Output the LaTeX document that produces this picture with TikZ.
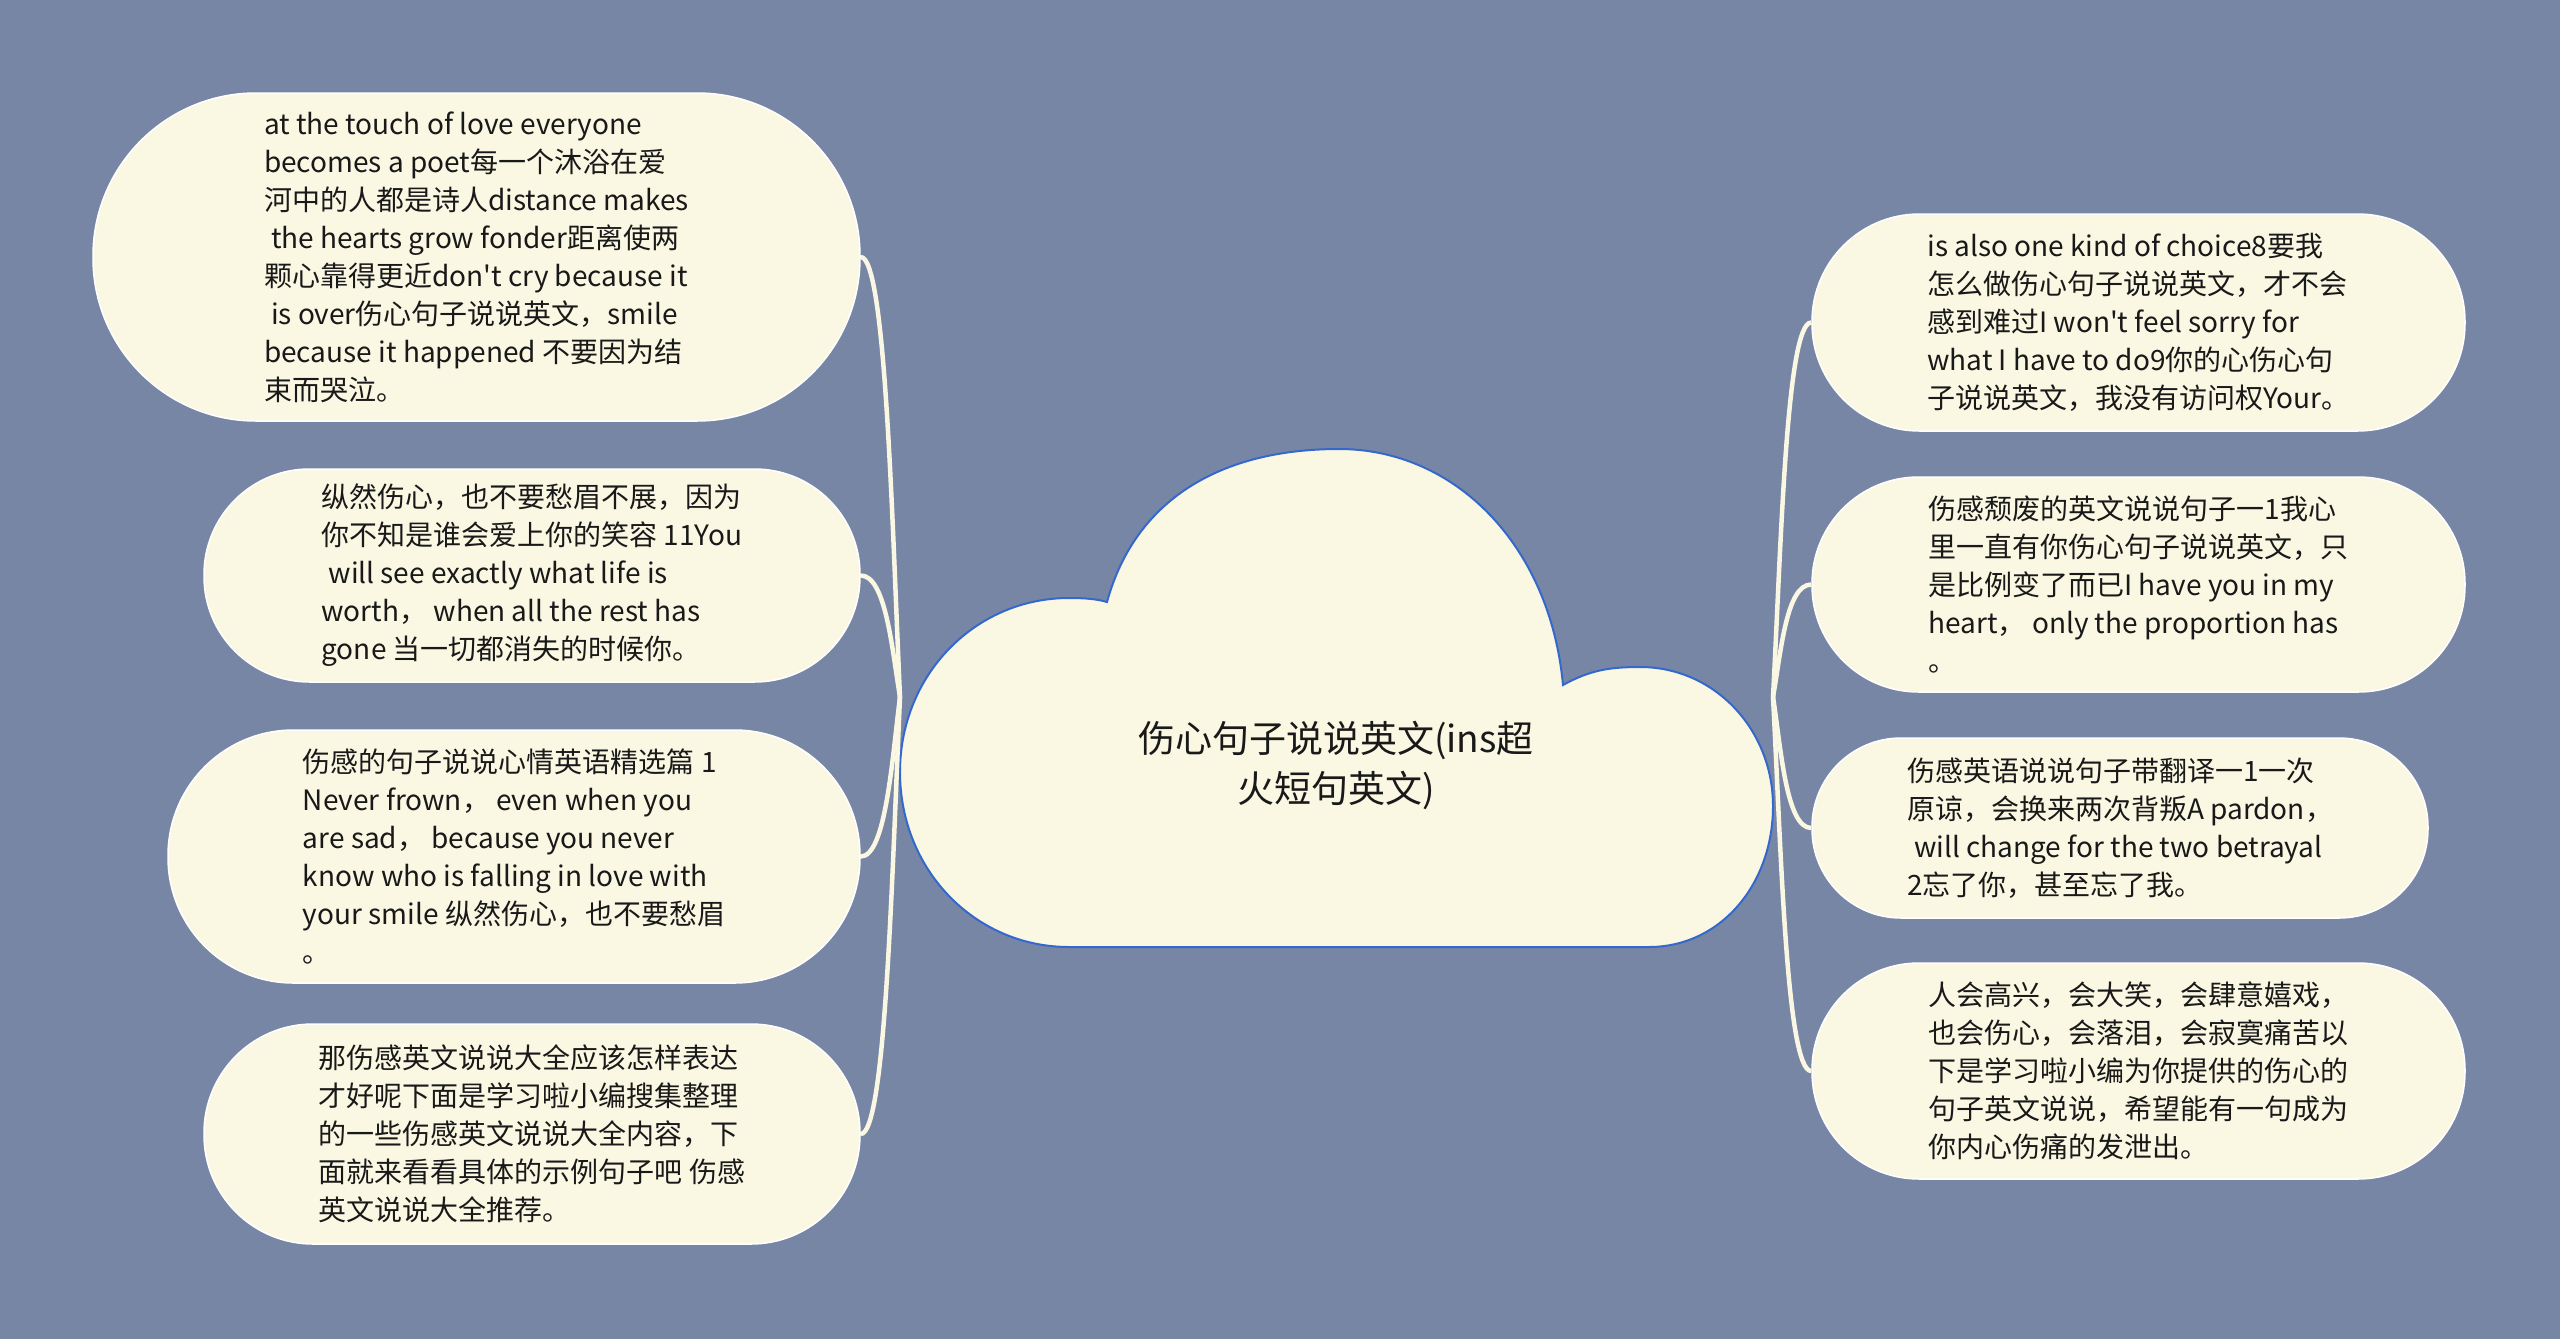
\documentclass[tikz,border=0pt]{standalone}
\usepackage{fontspec}
\setmainfont[Ligatures=TeXOff]{Noto Sans CJK SC}
\usepackage{tikz}
\usetikzlibrary{positioning}
\definecolor{bgblue}{RGB}{120,134,166}
\definecolor{cream}{RGB}{250,247,227}
\definecolor{cloudblue}{RGB}{52,104,204}

\begin{document}
\begin{tikzpicture}[x=1pt, y=-1pt,
  leaf/.style 2 args={rectangle, draw=white, line width=1.5pt, fill=cream,
    minimum width=#1, minimum height=#2, rounded corners=#2/2-1pt,
    align=left, text=black!90, font=\fontsize{28}{38}\selectfont},
  branch/.style={cream, line width=4.5pt}]
\useasboundingbox[fill=bgblue] (0,0) rectangle (2560,1339);

% cloud in the middle
\draw[fill=cream, draw=cloudblue, line width=2pt]
  (1069,947) .. controls (975,947) and (900,870) .. (900,772)
  .. controls (900,675) and (975,598) .. (1069,598)
  .. controls (1085,598) and (1097,599) .. (1107,602)
  .. controls (1135,500) and (1220,449) .. (1339,449)
  .. controls (1455,449) and (1550,545) .. (1563,685)
  .. controls (1590,670) and (1610,667) .. (1640,667)
  .. controls (1715,667) and (1773,730) .. (1773,806)
  .. controls (1773,885) and (1720,947) .. (1649,947) -- cycle;
\node[align=center, text=black!90, font=\fontsize{37}{50}\selectfont] (root) at (1336,765)
  {伤心句子说说英文(ins超\\火短句英文)};
\coordinate (hubl) at (900,697);
\coordinate (hubr) at (1773,697);

% left side
\node[leaf={767pt}{328pt}] (l1) at (476.5,257) {at the touch of love everyone\\
becomes a poet每一个沐浴在爱\\
河中的人都是诗人distance makes\\
\hspace*{.25em}the hearts grow fonder距离使两\\
颗心靠得更近don't cry because it\\
\hspace*{.25em}is over伤心句子说说英文，smile\\
because it happened 不要因为结\\
束而哭泣。};
\node[leaf={656pt}{213pt}] (l2) at (532,575.5) {纵然伤心，也不要愁眉不展，因为\\
你不知是谁会爱上你的笑容 11You\\
\hspace*{.25em}will see exactly what life is\\
worth， when all the rest has\\
gone 当一切都消失的时候你。};
\node[leaf={692pt}{253pt}] (l3) at (514,856.5) {伤感的句子说说心情英语精选篇 1\\
Never frown， even when you\\
are sad， because you never\\
know who is falling in love with\\
your smile 纵然伤心，也不要愁眉\\
。};
\node[leaf={656pt}{220pt}] (l4) at (532,1134) {那伤感英文说说大全应该怎样表达\\
才好呢下面是学习啦小编搜集整理\\
的一些伤感英文说说大全内容，下\\
面就来看看具体的示例句子吧 伤感\\
英文说说大全推荐。};

% right side
\node[leaf={653pt}{217pt}] (r1) at (2138.5,322.5) {is also one kind of choice8要我\\
怎么做伤心句子说说英文，才不会\\
感到难过I won't feel sorry for\\
what I have to do9你的心伤心句\\
子说说英文，我没有访问权Your。};
\node[leaf={653pt}{215pt}] (r2) at (2138.5,584.5) {伤感颓废的英文说说句子一1我心\\
里一直有你伤心句子说说英文，只\\
是比例变了而已I have you in my\\
heart， only the proportion has\\
。};
\node[leaf={616pt}{180pt}] (r3) at (2120,828) {伤感英语说说句子带翻译一1一次\\
原谅，会换来两次背叛A pardon，\\
\hspace*{.25em}will change for the two betrayal\\
2忘了你，甚至忘了我。};
\node[leaf={653pt}{216pt}] (r4) at (2138.5,1071) {人会高兴，会大笑，会肆意嬉戏，\\
也会伤心，会落泪，会寂寞痛苦以\\
下是学习啦小编为你提供的伤心的\\
句子英文说说，希望能有一句成为\\
你内心伤痛的发泄出。};

\foreach \n/\d in {l1/-176, l2/-48, l3/63, l4/175}
  \draw[branch] (hubl) .. controls +(-8,\d) and +(25,0) .. (\n.east);
\foreach \n/\d in {r1/-150, r2/-45, r3/52, r4/150}
  \draw[branch] (hubr) .. controls +(8,\d) and +(-25,0) .. (\n.west);
\end{tikzpicture}
\end{document}
